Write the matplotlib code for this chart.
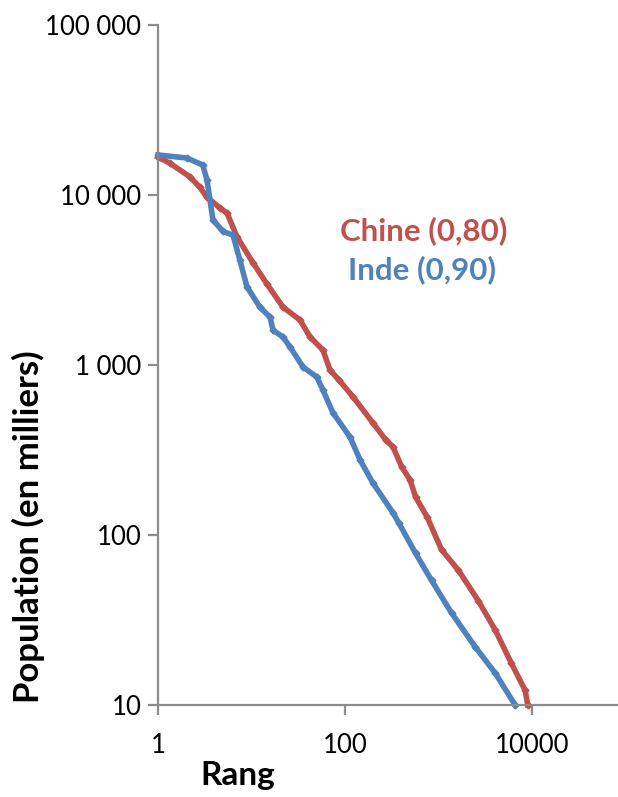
import matplotlib
matplotlib.use('Agg')
import matplotlib.pyplot as plt
from matplotlib.ticker import FixedLocator, FixedFormatter, NullLocator

plt.rcParams['font.family'] = ['Lato', 'DejaVu Sans']

# Chine : rang / population (milliers)
chine_rang = [1, 1.34, 2.19, 2.81, 3.32, 4.6, 5.47, 7, 10.4, 14.6, 21.7, 33, 42.2, 58, 69,
              86, 122, 199, 273, 326, 404, 496, 569, 753, 1076, 1632, 2667, 4040, 5980,
              8430, 9000]
chine_pop = [16700, 15400, 12800, 11100, 9730, 8390, 7830, 5670, 3980, 3000, 2190, 1840,
             1463, 1225, 935, 817, 649, 456, 362, 330, 251, 211, 167, 128, 82, 62, 41,
             27.6, 17.7, 12.2, 10]

# Inde
inde_rang = [1, 2.04, 3.01, 3.34, 3.87, 4.96, 6.34, 7.5, 8.95, 12.3, 15.8, 17, 21.7, 25.8,
             35.6, 50, 58, 74.5, 113, 145, 199, 326, 375, 569, 843, 1376, 2476, 4040, 6590]
inde_pop = [17200, 16500, 15000, 12250, 7130, 6100, 5800, 4150, 2880, 2190, 1910, 1600,
            1463, 1276, 973, 849, 713, 522, 377, 276, 202, 135, 118, 78, 54, 34.8, 21.9,
            15.4, 10]

y_ticks = [10, 100, 1000, 10000, 100000]
y_labels = ['10', '100', '1 000', '10 000', '100 000']
x_ticks = [1, 100, 10000]
x_labels = ['1', '100', '10000']

rouge = '#C0504D'
bleu = '#4F81BD'
gris = '#8C8C8C'

fig = plt.figure(figsize=(6.18, 7.97), dpi=100)
ax = fig.add_axes([158/618, 1-705/797, 1-158/618, 680/797])

ax.plot(chine_rang, chine_pop, color=rouge, lw=4, marker='D', ms=3.5, clip_on=False,
        solid_joinstyle='round')
ax.plot(inde_rang, inde_pop, color=bleu, lw=4, marker='D', ms=3.5, clip_on=False,
        solid_joinstyle='round')

ax.set_xscale('log')
ax.set_yscale('log')
ax.set_xlim(1, 8.3e4)
ax.set_ylim(10, 100000)

ax.yaxis.set_major_locator(FixedLocator(y_ticks))
ax.yaxis.set_major_formatter(FixedFormatter(y_labels))
ax.yaxis.set_minor_locator(NullLocator())
ax.xaxis.set_major_locator(FixedLocator(x_ticks))
ax.xaxis.set_major_formatter(FixedFormatter(x_labels))
ax.xaxis.set_minor_locator(NullLocator())

ax.spines['top'].set_visible(False)
ax.spines['right'].set_visible(False)
for s in ['left', 'bottom']:
    ax.spines[s].set_color(gris)
    ax.spines[s].set_linewidth(1.6)
ax.tick_params(axis='both', colors=gris, width=1.6, length=7, labelcolor='black',
               labelsize=18.5)
ax.tick_params(axis='y', pad=5)
ax.tick_params(axis='x', pad=13)

fig.text(238/618, 1-776/797, 'Rang', fontsize=24, fontweight='bold', ha='center', va='center')
fig.text(28/618, 1-527/797, 'Population (en milliers)', fontsize=25, fontweight='bold',
         rotation=90, ha='center', va='center')

fig.text(340/618, 1-231/797, 'Chine (0,80)', fontsize=22.5, fontweight='bold', color=rouge,
         ha='left', va='center')
fig.text(348/618, 1-270/797, 'Inde (0,90)', fontsize=22.5, fontweight='bold', color=bleu,
         ha='left', va='center')

fig.savefig('out.png', dpi=100)
